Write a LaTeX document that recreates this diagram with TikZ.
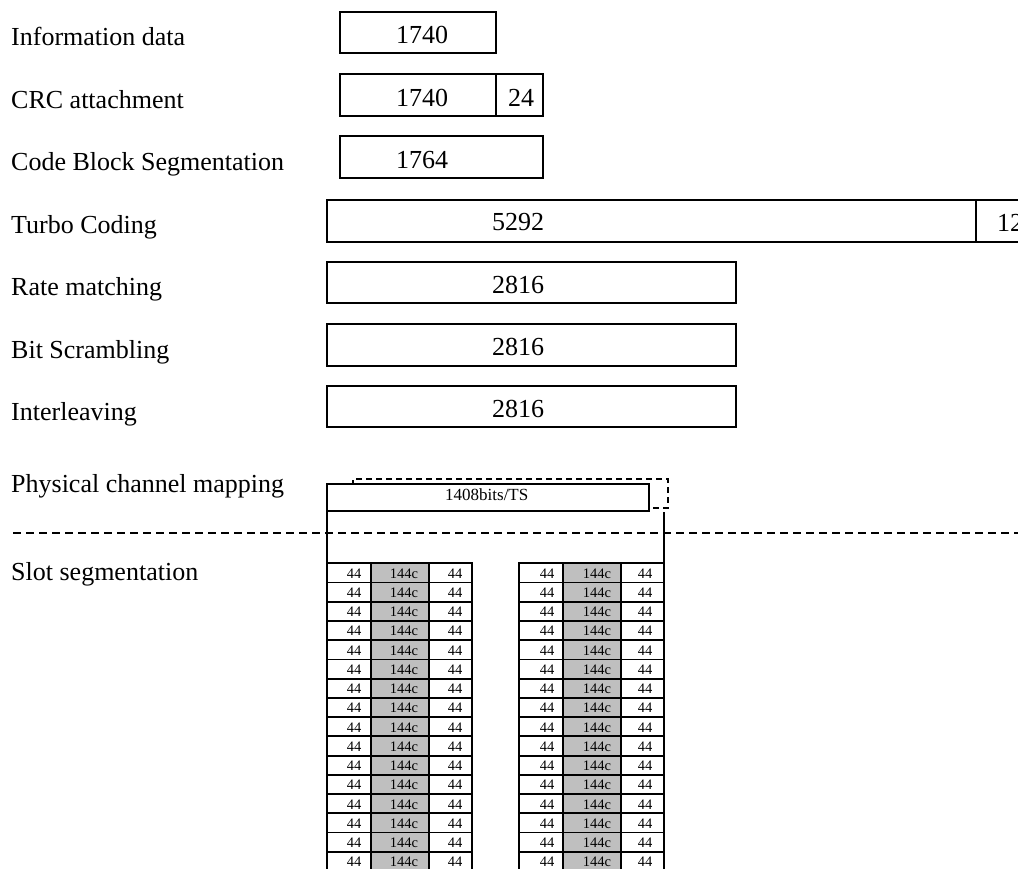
\documentclass[tikz,border=0pt]{standalone}
\usepackage{fontspec}
\setmainfont{Liberation Serif}
\begin{document}
\begin{tikzpicture}[x=1pt,y=-1pt,
  lbl/.style={font=\fontsize{26}{30}\selectfont, anchor=base west, inner sep=0pt},
  blk/.style={draw, line width=1.8pt, fill=white, rectangle, inner sep=0pt, outer sep=0pt, anchor=north west},
  cellw/.style={draw, line width=1.8pt, fill=white, rectangle, inner sep=0pt, outer sep=0pt, anchor=north west, minimum height=19.23pt},
  cellg/.style={cellw, fill=black!25},
  ctxt/.style={font=\fontsize{14.5}{16}\selectfont, anchor=base, inner sep=0pt},
  dashbox/.style={draw, line width=1.6pt, dash pattern=on 6pt off 4pt, rectangle, inner sep=0pt, outer sep=0pt, anchor=north west},
  sep/.style={line width=1.8pt, dash pattern=on 8pt off 5pt},
  lnk/.style={line width=1.8pt}
]
\useasboundingbox (0,0) rectangle (1018,868);
\clip (0,0) rectangle (1018,868);
\fill[white] (0,0) rectangle (1018,868);

% labels
\node[lbl] (l1) at (11,45) {Information data};
\node[lbl] (l2) at (11,108) {CRC attachment};
\node[lbl] (l3) at (11,170) {Code Block Segmentation};
\node[lbl] (l4) at (11,233) {Turbo Coding};
\node[lbl] (l5) at (11,295) {Rate matching};
\node[lbl] (l6) at (11,358) {Bit Scrambling};
\node[lbl] (l7) at (11,420) {Interleaving};
\node[lbl] (l8) at (11,492) {Physical channel mapping};
\node[lbl] (l9) at (11,580) {Slot segmentation};

% blocks
\node[blk, minimum width=156pt, minimum height=41pt] (b1) at (340,12) {};
\node[lbl] (t1) at (396,43) {1740};

\node[blk, minimum width=156pt, minimum height=42pt] (b2a) at (340,74) {};
\node[blk, minimum width=47pt, minimum height=42pt] (b2b) at (496,74) {};
\node[lbl] (t2a) at (396,106) {1740};
\node[lbl] (t2b) at (508,106) {24};

\node[blk, minimum width=203pt, minimum height=42pt] (b3) at (340,136) {};
\node[lbl] (t3) at (396,168) {1764};

\node[blk, minimum width=649pt, minimum height=42pt] (b4a) at (327,200) {};
\node[blk, minimum width=70pt, minimum height=42pt] (b4b) at (976,200) {};
\node[lbl] (t4a) at (492,230) {5292};
\node[lbl] (t4b) at (997,231) {12};

\node[blk, minimum width=409pt, minimum height=41pt] (b5) at (327,262) {};
\node[lbl] (t5) at (492,293) {2816};
\node[blk, minimum width=409pt, minimum height=42pt] (b6) at (327,324) {};
\node[lbl] (t6) at (492,355) {2816};
\node[blk, minimum width=409pt, minimum height=41pt] (b7) at (327,386) {};
\node[lbl] (t7) at (492,417) {2816};

% physical channel mapping
\node[dashbox, minimum width=315pt, minimum height=29pt] (pmd) at (353,479) {};
\node[blk, minimum width=322pt, minimum height=27pt] (pm) at (327,484) {};
\node[font=\fontsize{17}{20}\selectfont, anchor=base west, inner sep=0pt] (tpm) at (445,500) {1408bits/TS};

% separator
\coordinate (sl) at (13,533);
\coordinate (sr) at (1030,533);
\draw[sep] (sl) -- (sr);

% slot tables
\foreach \r in {0,...,15}{
  \pgfmathsetmacro{\yy}{563.3+\r*19.23}
  \pgfmathsetmacro{\yb}{\yy+15}
  \node[cellw, minimum width=44pt] (La\r) at (327,\yy) {};
  \node[cellg, minimum width=58pt] (Lb\r) at (371,\yy) {};
  \node[cellw, minimum width=43pt] (Lc\r) at (429,\yy) {};
  \node[cellw, minimum width=44pt] (Ra\r) at (519,\yy) {};
  \node[cellg, minimum width=58pt] (Rb\r) at (563,\yy) {};
  \node[cellw, minimum width=43pt] (Rc\r) at (621,\yy) {};
  \node[ctxt] at (354,\yb) {44};
  \node[ctxt] at (404,\yb) {144c};
  \node[ctxt] at (455,\yb) {44};
  \node[ctxt] at (547,\yb) {44};
  \node[ctxt] at (597,\yb) {144c};
  \node[ctxt] at (645,\yb) {44};
}

% links from mapping box down to the tables
\coordinate (pmr) at (664,512);
\draw[lnk] (pm.south west) -- (La0.north west);
\draw[lnk] (pmr) -- (Rc0.north east);
\end{tikzpicture}
\end{document}
